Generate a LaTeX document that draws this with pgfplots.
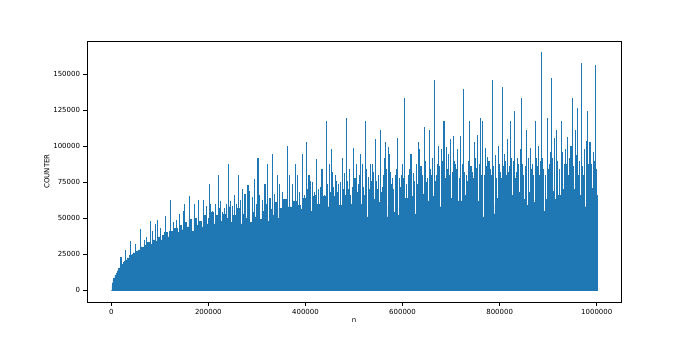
\documentclass[border=0pt]{standalone}
\usepackage{pgfplots}
\pgfplotsset{compat=1.18}
\usepackage{pgfplotstable}
\usepackage{fontspec}
\setmainfont{DejaVu Sans}
\definecolor{c0}{HTML}{1F77B4}
% x and y in thousands
\pgfplotstableread{
x y
0 0
1 3
2 5
3.5 7
5 8.5
7.5 10.5
10 12
12.5 13.5
15 15
17.5 16
20 17.5
22.5 18
25 19.5
27.5 20
30 21
32.5 22.5
35 22
37.5 24
40 24.5
42.5 25
45 26
47.5 25.5
50 27
55 28
60 30
65 29
70 31
75 33
80 32
85 35
90 34
95 37
100 35
105 38
110 40
115 37
120 41
125 39
130 43
135 40
140 45
145 42
150 47
155 44
160 49
165 41
170 50
175 45
180 48
185 44
190 52
195 46
200 50
205 54
210 46
215 52
220 57
225 48
230 53
235 50
240 58
245 47
250 52
255 48
260 57
265 46
270 53
275 50
280 59
285 47
290 54
295 51
300 58
305 49
310 55
315 60
320 48
325 56
330 52
335 61
340 50
345 57
350 54
355 63
360 49
365 58
370 55
375 62
380 51
385 59
390 56
395 64
400 52
405 60
410 55
415 65
420 52
425 60
430 56
435 65
440 51
445 58
450 62
455 54
460 65
465 52
470 59
475 56
480 66
485 51
490 60
495 55
500 63
505 52
510 60
515 56
520 66
525 51
530 61
535 57
540 63
545 52
550 61
555 57
560 66
565 51
570 59
575 63
580 54
585 66
590 52
595 60
600 57
605 64
610 51
615 61
620 65
625 53
630 61
635 57
640 67
645 52
650 62
655 58
660 65
665 52
670 62
675 58
680 67
685 53
690 60
695 64
700 55
705 67
710 51
715 62
720 58
725 66
730 53
735 61
740 67
745 53
750 62
755 58
760 66
765 51
770 63
775 59
780 67
785 53
790 60
795 64
800 55
805 68
810 52
815 63
820 58
825 66
830 53
835 60
840 68
845 55
850 63
855 59
860 68
865 53
870 61
875 65
880 56
885 69
890 55
895 63
900 58
905 69
910 55
915 63
920 66
925 57
930 70
935 56
940 63
945 60
950 70
955 57
960 66
965 62
970 71
975 58
980 66
985 62
990 71
995 66
1000 66
}\texture
\pgfplotstableread{
x y
20 23
30.2 27.8
40.5 34
50.7 32
59.7 42.4
67.9 34.8
73.4 37
80.2 48
85 41
90.5 45.7
95.3 49
100.8 43.3
111 51.7
121.3 62.4
128.2 47.5
134.3 48.7
139.8 52.6
148.7 55
150.8 59.6
160.4 65.8
170.6 59.6
179.5 62.6
189.8 62.6
196.8 58.6
201.5 73.5
205 60
208 55
215 59.6
220.7 80
225.5 62
229 54.5
233 57
237 59.6
241.3 87.6
245 62
249.5 58.6
254.3 66
258 60
261.8 80
266.6 62.6
270 70
275.5 67
281.7 73
285 69
290 65
295.4 77.4
300 60
302.2 91.6
306 66
311 62.6
316.6 73.5
322 87.4
327 64
332.4 95
337 67
342.7 80
346.8 74
352 68
357 62
363.2 100.4
368 80
372.8 73.5
379.6 87.4
383.8 80
388 68
393.3 95
398 66
402.4 103
407.2 80
414 75
418 68
423 91
427 70
431 72
436 80
440 66
442.8 117.8
449.6 87.6
453.7 97.8
458 72
462 80
466 68
468.8 73.5
472 75
475.7 91.6
480.4 81.8
483.9 119.4
488 70
493 66
498.3 98.5
505 87.4
509 74
514 95
518.1 87.4
523.6 117.8
529 78.8
533.9 87.4
538.7 87.4
544.2 104.8
548 70
554.4 111.3
558 72
562.6 91.6
564.7 103
570.2 99.7
573.6 95
578 74
582 70
585.3 80
590 106
595 72
600.3 87.6
604.4 133.3
608 74
611.4 80
617.5 95
621.7 81.8
625 76
628.5 87.4
633.3 103
635.4 97.8
640 78
645 113.6
650 75
655.2 111.3
660 80
665.5 146
668 76
672.3 87.4
674.4 100
679.9 97.8
685.4 117.8
690.8 99.7
695 95
699.1 105
702 82
705.2 107.3
709.3 87.4
714.1 97.8
717 78
720.3 107.3
725.8 140
731 80
734 76
738.8 117.8
743 82
748.4 103
752 85
755.2 107.8
760 119.4
765.5 117.8
769 80
771 98.5
775.8 92.7
781 84
786 146
790.8 93.9
794 78
797.7 100
801 82
805.9 141
809.3 95
815 80
817 104.8
820 86
822.5 117.8
825.2 91.6
830.7 124.7
834 82
838.9 87.4
842.3 97.8
845.8 133.3
850 80
853 86
856 111.3
859 92
862.9 99
867 88
870 80
873.2 117.8
877 86
880 100
884 90
886.9 165.3
891 84
894 80
897.8 119.4
902 88
906.7 147.7
909 92
912.9 106
916.3 111.3
920 90
923 84
926.6 117.8
930 96
933 88
936.2 97.8
940.3 106.6
944 92
947 100
950.6 133.3
955.4 111.3
958 94
960.1 126.8
964 90
967.7 158
971 86
975 98
978 104
981.4 124.7
986.2 103
990 88
993 96
997.1 156.5
}\spikes
\pgfplotstableread{
x y
404 70
411 76
421 66
434 84
446 74
451 68
456 82
464 76
478 70
486 76
491 84
496 72
502 78
507 68
512 80
520 72
526 84
531 70
536 76
541 82
546 76
551 80
556 68
560 80
567 84
572 76
576 82
580 78
588 84
593 78
598 80
603 78
614 84
631 74
638 86
642 80
648 90
652 78
658 84
662 92
670 80
677 86
683 90
688 78
693 84
697 80
707 90
712 84
723 88
728 82
736 90
741 86
746 78
750 92
758 88
763 80
773 86
778 90
783 80
788 86
792 80
799 88
803 78
807 86
812 90
818 82
828 90
832 78
836 92
848 88
865 84
875 92
882 80
889 92
900 84
904 96
918 86
928 82
938 88
942 80
952 86
962 80
969 92
973 80
983 88
988 82
995 90
999 84
}\spikesb
\begin{document}
\begin{tikzpicture}
\path[use as bounding box] (-87bp,-37bp) rectangle (603bp,302bp);
\begin{axis}[
  at={(0,0)}, anchor=south west,
  scale only axis, width=534bp, height=261bp,
  xmin=-50, xmax=1050, ymin=-8.25, ymax=173.25,
  xtick={0,200,400,600,800,1000},
  xticklabels={0,200000,400000,600000,800000,1000000},
  ytick={0,25,50,75,100,125,150},
  yticklabels={0,25000,50000,75000,100000,125000,150000},
  xtick pos=left, ytick pos=left,
  tick align=outside, major tick length=3.5bp,
  tick style={black, line width=0.6bp},
  axis line style={line width=0.6bp},
  ticklabel style={font=\fontsize{7}{8}\selectfont},
  label style={font=\fontsize{7}{8}\selectfont},
  xlabel={n}, ylabel={COUNTER},
  xlabel shift=-3bp, ylabel shift=-3bp,
  clip=true,
]
\addplot[const plot, color=c0, fill=c0, line width=0.4bp, mark=none] table[x=x,y=y] {\texture} \closedcycle;
\addplot[ycomb, color=c0, line width=1.1bp, mark=none] table[x=x,y=y] {\spikes};
\addplot[ycomb, color=c0, line width=1.1bp, mark=none] table[x=x,y=y] {\spikesb};
\end{axis}
\end{tikzpicture}
\end{document}
